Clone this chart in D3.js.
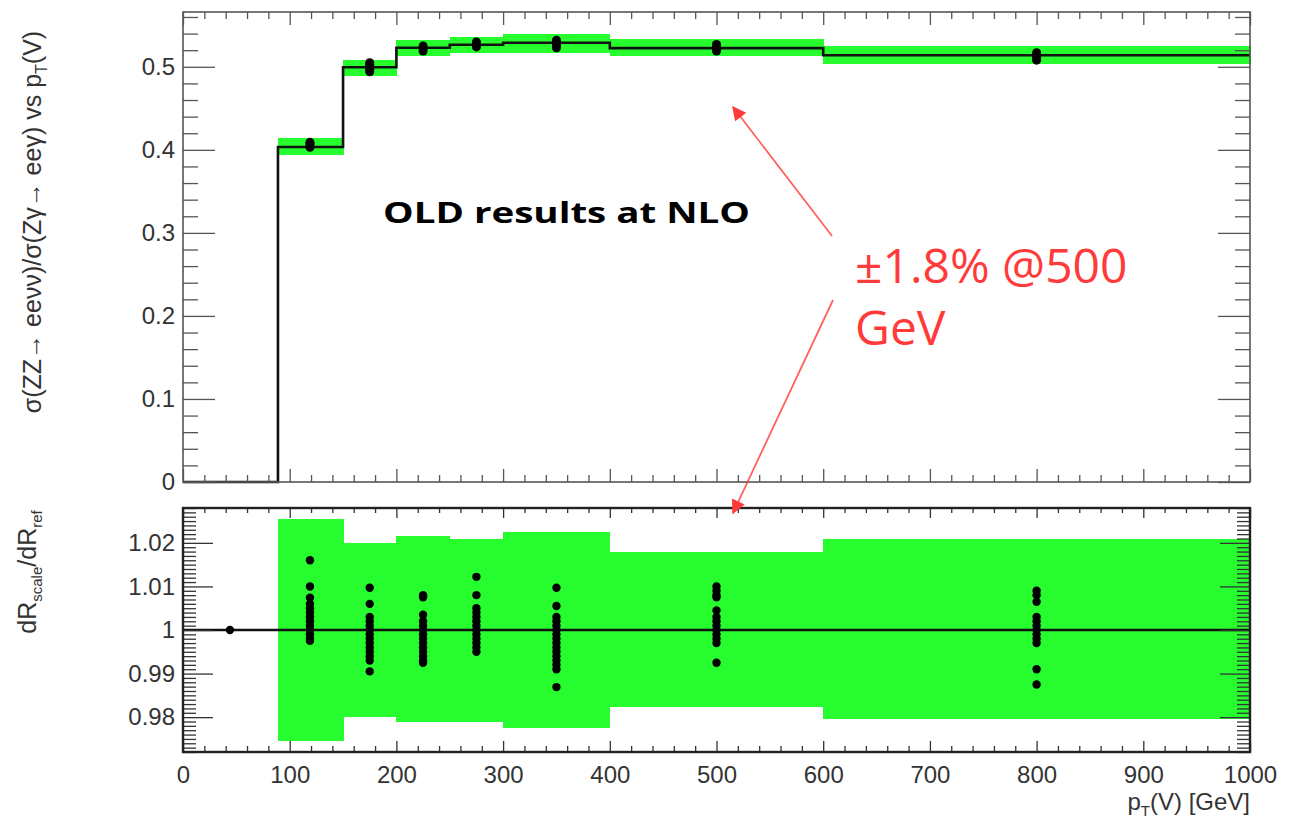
<!DOCTYPE html>
<html>
<head>
<meta charset="utf-8">
<script src="https://cdn.jsdelivr.net/npm/d3@7"></script>
<style>
  html, body { margin: 0; padding: 0; background: #fff; }
  svg { display: block; }
  .tick text { font-family: "Liberation Sans", Arial, sans-serif; fill: #333; }
</style>
</head>
<body>
<svg id="chart" width="1291" height="826"></svg>
<script>
// bin edges in pT(V) [GeV]
const binEdges = [0, 89, 150, 200, 250, 300, 400, 600, 1000];
const binCenters = [44, 119, 175, 225, 275, 350, 500, 800];

// top panel: sigma ratio per bin + scale band
const sigmaRatio = [0, 0.4035, 0.4995, 0.523, 0.5265, 0.529, 0.5225, 0.514];
const bandTopLo = [null, 0.394, 0.489, 0.513, 0.517, 0.517, 0.513, 0.503];
const bandTopHi = [null, 0.414, 0.508, 0.532, 0.536, 0.540, 0.533, 0.525];
const topPoints = [
  [],
  [0.403, 0.405, 0.407, 0.409],
  [0.494, 0.497, 0.500, 0.503, 0.505],
  [0.519, 0.522, 0.525],
  [0.524, 0.527, 0.530],
  [0.523, 0.526, 0.529, 0.532],
  [0.519, 0.522, 0.525, 0.527],
  [0.508, 0.511, 0.514, 0.517]
];

// bottom panel: dR_scale/dR_ref band + points
const bandRatLo = [null, 0.9745, 0.980, 0.9788, 0.979, 0.9775, 0.9823, 0.9795];
const bandRatHi = [null, 1.0255, 1.020, 1.0215, 1.021, 1.0225, 1.018, 1.021];
const ratioPoints = [
  [1.0],
  [1.016, 1.010, 1.0074, 1.006, 1.005, 1.004, 1.003, 1.002, 1.001, 1.000, 0.999, 0.998, 0.9975],
  [1.0097, 1.006, 1.003, 1.002, 1.001, 1.0, 0.999, 0.998, 0.997, 0.996, 0.995, 0.994, 0.993, 0.9905],
  [1.008, 1.0075, 1.0035, 1.002, 1.001, 1.0, 0.999, 0.998, 0.997, 0.996, 0.995, 0.994, 0.993, 0.9925],
  [1.0122, 1.008, 1.005, 1.004, 1.003, 1.002, 1.001, 1.0, 0.999, 0.998, 0.997, 0.996, 0.995],
  [1.0097, 1.0055, 1.003, 1.002, 1.001, 1.0, 0.999, 0.998, 0.997, 0.996, 0.995, 0.994, 0.993, 0.992, 0.991, 0.9869],
  [1.010, 1.009, 1.008, 1.0075, 1.0045, 1.003, 1.002, 1.001, 1.0, 0.999, 0.998, 0.997, 0.9925],
  [1.009, 1.008, 1.0065, 1.003, 1.002, 1.001, 1.0, 0.999, 0.998, 0.997, 0.991, 0.9875]
];

// ticks
const xTicks = [0, 100, 200, 300, 400, 500, 600, 700, 800, 900, 1000];
const xLabels = ["0", "100", "200", "300", "400", "500", "600", "700", "800", "900", "1000"];
const yTopTicks = [0, 0.1, 0.2, 0.3, 0.4, 0.5];
const yTopLabels = ["0", "0.1", "0.2", "0.3", "0.4", "0.5"];
const yRatTicks = [0.98, 0.99, 1, 1.01, 1.02];
const yRatLabels = ["0.98", "0.99", "1", "1.01", "1.02"];

const GREEN = "#27fc2f";
const RED = "#ff3a3a";

const svg = d3.select("#chart");

const x = d3.scaleLinear().domain([0, 1000]).range([183, 1250]);
const yTop = d3.scaleLinear().domain([0, 0.566]).range([482, 12]);
const yRat = d3.scaleLinear().domain([0.972, 1.028]).range([752, 508]);

drawTopPanel();
drawRatioPanel();
drawTitles();
drawAnnotations();

function minorValues(lo, hi, step, majors) {
  return d3.range(Math.ceil(lo / step - 1e-9) * step, hi + 1e-9, step)
    .map((v) => +v.toFixed(4))
    .filter((v) => !majors.some((m) => Math.abs(m - v) < 1e-6));
}

function addAxis(g, axis, tr, color) {
  const a = g.append("g").attr("transform", tr).call(axis);
  a.select(".domain").remove();
  a.selectAll(".tick line").attr("stroke", color).attr("stroke-width", 1.3);
  return a;
}

function drawTopPanel() {
  const g = svg.append("g");

  // scale band
  g.selectAll("rect.band")
    .data(d3.range(1, sigmaRatio.length))
    .enter()
    .append("rect")
    .attr("x", (i) => x(binEdges[i]))
    .attr("width", (i) => x(binEdges[i + 1]) - x(binEdges[i]) + 0.5)
    .attr("y", (i) => yTop(bandTopHi[i]))
    .attr("height", (i) => yTop(bandTopLo[i]) - yTop(bandTopHi[i]))
    .attr("fill", GREEN)
    .attr("shape-rendering", "crispEdges");

  // histogram step line
  const steps = sigmaRatio.map((v, i) => [binEdges[i], v]);
  steps.push([binEdges[binEdges.length - 1], sigmaRatio[sigmaRatio.length - 1]]);
  g.append("path")
    .datum(steps)
    .attr("d", d3.line().x((d) => x(d[0])).y((d) => yTop(d[1])).curve(d3.curveStepAfter))
    .attr("fill", "none")
    .attr("stroke", "#111")
    .attr("stroke-width", 2.6);

  const pts = topPoints.flatMap((arr, i) => arr.map((v) => [binCenters[i], v]));
  g.selectAll("circle.pt")
    .data(pts)
    .enter()
    .append("circle")
    .attr("cx", (d) => x(d[0]))
    .attr("cy", (d) => yTop(d[1]))
    .attr("r", 4.5)
    .attr("fill", "#000");

  const col = "#555";
  const yMinor = minorValues(0, 0.566, 0.02, yTopTicks);
  const xMinor = minorValues(0, 1000, 20, xTicks);

  const left = addAxis(g, d3.axisLeft(yTop).tickValues(yTopTicks).tickSize(-32).tickPadding(8)
    .tickFormat((d, i) => yTopLabels[i]), "translate(183,0)", col);
  left.selectAll("text").attr("font-size", 24).attr("fill", "#333");
  addAxis(g, d3.axisLeft(yTop).tickValues(yMinor).tickSize(-15).tickFormat(""), "translate(183,0)", col);
  addAxis(g, d3.axisRight(yTop).tickValues(yTopTicks).tickSize(-32).tickFormat(""), "translate(1250,0)", col);
  addAxis(g, d3.axisRight(yTop).tickValues(yMinor).tickSize(-15).tickFormat(""), "translate(1250,0)", col);
  addAxis(g, d3.axisTop(x).tickValues(xTicks).tickSize(-13).tickFormat(""), "translate(0,12)", col);
  addAxis(g, d3.axisTop(x).tickValues(xMinor).tickSize(-7).tickFormat(""), "translate(0,12)", col);
  addAxis(g, d3.axisBottom(x).tickValues(xTicks).tickSize(-13).tickFormat(""), "translate(0,482)", col);
  addAxis(g, d3.axisBottom(x).tickValues(xMinor).tickSize(-7).tickFormat(""), "translate(0,482)", col);

  g.append("rect")
    .attr("x", x(0)).attr("y", yTop(0.566))
    .attr("width", x(1000) - x(0)).attr("height", yTop(0) - yTop(0.566))
    .attr("fill", "none").attr("stroke", col).attr("stroke-width", 1.6);
}

function drawRatioPanel() {
  const g = svg.append("g");

  g.selectAll("rect.band")
    .data(d3.range(1, bandRatLo.length))
    .enter()
    .append("rect")
    .attr("x", (i) => x(binEdges[i]))
    .attr("width", (i) => x(binEdges[i + 1]) - x(binEdges[i]) + 0.5)
    .attr("y", (i) => yRat(bandRatHi[i]))
    .attr("height", (i) => yRat(bandRatLo[i]) - yRat(bandRatHi[i]))
    .attr("fill", GREEN)
    .attr("shape-rendering", "crispEdges");

  g.append("line")
    .attr("x1", x(0)).attr("x2", x(1000))
    .attr("y1", yRat(1)).attr("y2", yRat(1))
    .attr("stroke", "#111").attr("stroke-width", 2.6);

  const pts = ratioPoints.flatMap((arr, i) => arr.map((v) => [binCenters[i], v]));
  g.selectAll("circle.pt")
    .data(pts)
    .enter()
    .append("circle")
    .attr("cx", (d) => x(d[0]))
    .attr("cy", (d) => yRat(d[1]))
    .attr("r", 4.2)
    .attr("fill", "#000");

  const col = "#333";
  const yMinor = minorValues(0.972, 1.028, 0.001, yRatTicks);
  const xMinor = minorValues(0, 1000, 20, xTicks);

  const left = addAxis(g, d3.axisLeft(yRat).tickValues(yRatTicks).tickSize(-30).tickPadding(8)
    .tickFormat((d, i) => yRatLabels[i]), "translate(183,0)", col);
  left.selectAll("text").attr("font-size", 24).attr("fill", "#333");
  addAxis(g, d3.axisLeft(yRat).tickValues(yMinor).tickSize(-13).tickFormat(""), "translate(183,0)", col);
  addAxis(g, d3.axisRight(yRat).tickValues(yRatTicks).tickSize(-30).tickFormat(""), "translate(1250,0)", col);
  addAxis(g, d3.axisRight(yRat).tickValues(yMinor).tickSize(-13).tickFormat(""), "translate(1250,0)", col);
  addAxis(g, d3.axisTop(x).tickValues(xTicks).tickSize(-10).tickFormat(""), "translate(0,508)", col);
  addAxis(g, d3.axisTop(x).tickValues(xMinor).tickSize(-5).tickFormat(""), "translate(0,508)", col);
  const bottom = addAxis(g, d3.axisBottom(x).tickValues(xTicks).tickSize(-11).tickPadding(14)
    .tickFormat((d, i) => xLabels[i]), "translate(0,752)", col);
  bottom.selectAll("text").attr("font-size", 24).attr("fill", "#333").attr("dy", "0.71em");
  addAxis(g, d3.axisBottom(x).tickValues(xMinor).tickSize(-6).tickFormat(""), "translate(0,752)", col);

  g.append("rect")
    .attr("x", x(0)).attr("y", yRat(1.028))
    .attr("width", x(1000) - x(0)).attr("height", yRat(0.972) - yRat(1.028))
    .attr("fill", "none").attr("stroke", "#222").attr("stroke-width", 2.4);
}

function drawTitles() {
  const font = "'Liberation Sans', Arial, sans-serif";

  const t1 = svg.append("text")
    .attr("transform", "translate(41,222) rotate(-90)")
    .attr("text-anchor", "middle")
    .attr("font-family", font).attr("font-size", 25).attr("fill", "#333");
  t1.append("tspan").text("σ(ZZ→ eeνν)/σ(Zγ→ eeγ) vs p");
  t1.append("tspan").attr("font-size", 16).attr("dy", 6).text("T");
  t1.append("tspan").attr("dy", -6).text("(V)");

  const t2 = svg.append("text")
    .attr("transform", "translate(36,572) rotate(-90)")
    .attr("text-anchor", "middle")
    .attr("font-family", font).attr("font-size", 25).attr("fill", "#333");
  t2.append("tspan").text("dR");
  t2.append("tspan").attr("font-size", 15).attr("dy", 6).text("scale");
  t2.append("tspan").attr("dy", -6).text("/dR");
  t2.append("tspan").attr("font-size", 15).attr("dy", 6).text("ref");

  const t3 = svg.append("text")
    .attr("x", 1250).attr("y", 810)
    .attr("text-anchor", "end")
    .attr("font-family", font).attr("font-size", 24).attr("fill", "#333");
  t3.append("tspan").text("p");
  t3.append("tspan").attr("font-size", 15).attr("dy", 6).text("T");
  t3.append("tspan").attr("dy", -6).text("(V) [GeV]");
}

function drawAnnotations() {
  const defs = svg.append("defs");
  defs.append("marker")
    .attr("id", "head")
    .attr("viewBox", "0 0 10 10")
    .attr("refX", 9).attr("refY", 5)
    .attr("markerWidth", 17).attr("markerHeight", 14)
    .attr("markerUnits", "userSpaceOnUse")
    .attr("orient", "auto")
    .append("path").attr("d", "M0,0 L10,5 L0,10 Z").attr("fill", RED);

  svg.append("text")
    .attr("x", 383).attr("y", 223)
    .attr("font-family", "'Open Sans', sans-serif")
    .attr("font-weight", 700).attr("font-size", 28)
    .attr("textLength", 367).attr("lengthAdjust", "spacingAndGlyphs")
    .attr("fill", "#000")
    .text("OLD results at NLO");

  const arrows = [[832, 236, 733, 107], [833, 300, 733, 513]];
  svg.selectAll("line.arrow")
    .data(arrows)
    .enter()
    .append("line")
    .attr("x1", (d) => d[0]).attr("y1", (d) => d[1])
    .attr("x2", (d) => d[2]).attr("y2", (d) => d[3])
    .attr("stroke", RED).attr("stroke-opacity", 0.8).attr("stroke-width", 1.8)
    .attr("marker-end", "url(#head)");

  svg.append("text")
    .attr("x", 855).attr("y", 283)
    .attr("font-family", "'Open Sans', sans-serif").attr("font-size", 48)
    .attr("fill", RED)
    .text("±1.8% @500");
  svg.append("text")
    .attr("x", 855).attr("y", 345)
    .attr("font-family", "'Open Sans', sans-serif").attr("font-size", 48)
    .attr("fill", RED)
    .text("GeV");
}
</script>
</body>
</html>
